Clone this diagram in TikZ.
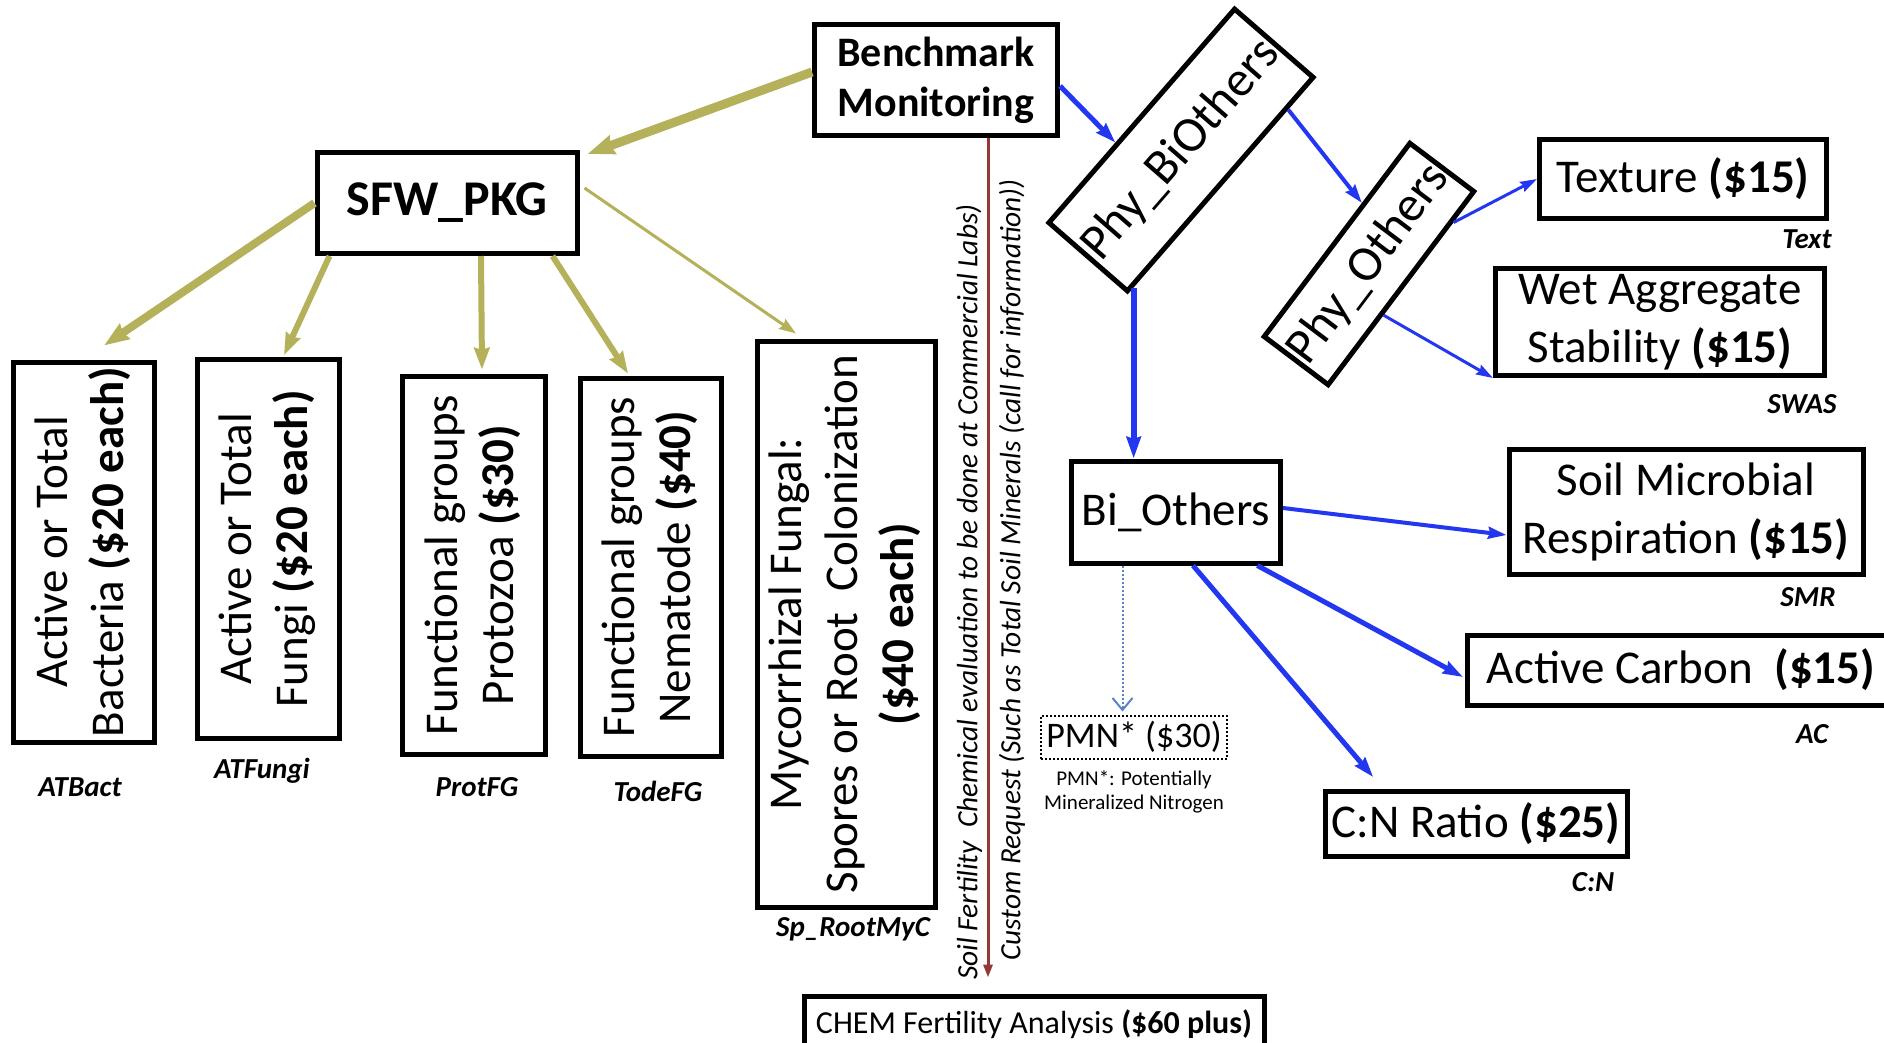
\documentclass[tikz,border=0pt]{standalone}
\usepackage{graphicx}
\usepackage{fontspec}
\setmainfont{Carlito}
\usetikzlibrary{arrows.meta,calc}
\definecolor{olivec}{RGB}{181,177,90}
\definecolor{bluec}{RGB}{35,55,240}
\definecolor{redc}{RGB}{150,55,55}
\definecolor{dotc}{RGB}{90,130,200}
\newcommand\fsz[2]{\fontsize{#1}{#2}\selectfont}
\newcommand\vtxt[1]{\rotatebox{90}{\fsz{47}{56}\begin{tabular}{@{}c@{}}#1\end{tabular}}}

\begin{document}
\begin{tikzpicture}[x=1pt,y=-1pt,
 box/.style={draw,line width=5pt,inner sep=0pt,align=center},
 tag/.style={font=\fsz{29}{34}\bfseries\itshape},
 side/.style={rotate=90,font=\fsz{29.4}{34}\itshape},
 olv/.style={draw=olivec,line width=#1,-{Stealth[length=12pt 1.6,width=8pt 1.2,inset=2pt]}},
 blu/.style={draw=bluec,line width=#1,-{Stealth[length=12pt 1.6,width=7pt 1.2,inset=2pt]}}]
\path[use as bounding box,fill=white] (0,0) rectangle (1884,1042);

% top of the tree
\node[box,minimum width=243pt,minimum height=111pt,font=\fsz{42}{50}\bfseries](bench) at (936,80){Benchmark\\Monitoring};
\node[box,minimum width=260pt,minimum height=101pt,font=\fsz{50}{60}\bfseries](sfw) at (447,203){SFW\_PKG};

% biology boxes
\node[box,minimum width=141pt,minimum height=380pt](atbact) at (84,552){\vtxt{Active or Total\\Bacteria \textbf{(\$20 each)}}};
\node[box,minimum width=142pt,minimum height=379pt](atfungi) at (268,549){\vtxt{Active or Total\\Fungi \textbf{(\$20 each)}}};
\node[box,minimum width=143pt,minimum height=378pt](protfg) at (474,565){\vtxt{Functional groups\\Protozoa \textbf{(\$30)}}};
\node[box,minimum width=141pt,minimum height=378pt](todefg) at (651,567){\vtxt{Functional groups\\Nematode \textbf{(\$40)}}};
\node[box,minimum width=178pt,minimum height=566pt](myc) at (846,624){\vtxt{Mycorrhizal Fungal:\\Spores or Root\ \ Colonization\\\textbf{(\$40 each)}}};
\node[tag](tbact) at (80,787){ATBact};
\node[tag](tfungi) at (262,771){ATFungi};
\node[tag](tprot) at (477,787){ProtFG};
\node[tag](ttode) at (658,791){TodeFG};
\node[tag](tmyc) at (853,929){Sp\_RootMyC};

% chemistry
\node[box,minimum width=460pt,minimum height=56pt,font=\fsz{32}{40}](chem) at (1034,1024){CHEM Fertility Analysis \textbf{(\$60 plus)}};
\node[side](fert) at (969,592){Soil Fertility\ \ Chemical evaluation to be done at Commercial Labs)};
\node[side](custom) at (1012,570){Custom Request (Such as Total Soil Minerals (call for information))};

% physical and other tests
\node[box,rotate=49,minimum width=283pt,minimum height=104pt,font=\fsz{50}{60}](phybi) at (1181,150){Phy\_BiOthers};
\node[box,rotate=53,minimum width=242pt,minimum height=80pt,font=\fsz{50}{60}](phyoth) at (1369,264){Phy\_Others};
\node[box,minimum width=287pt,minimum height=79pt,font=\fsz{47}{58}](texture) at (1683,179){Texture \textbf{(\$15)}};
\node[box,minimum width=329pt,minimum height=107pt,font=\fsz{47}{58}](was) at (1660,322){Wet Aggregate\\Stability \textbf{(\$15)}};
\node[tag](ttext) at (1807,239){Text};
\node[tag](tswas) at (1802,404){SWAS};
\node[box,minimum width=209pt,minimum height=102pt,font=\fsz{47}{58}](bio) at (1176,512){Bi\_Others};
\node[box,minimum width=354pt,minimum height=125pt,font=\fsz{47}{58}](smr) at (1686,512){Soil Microbial\\Respiration \textbf{(\$15)}};
\node[box,minimum width=427pt,minimum height=70pt,font=\fsz{47}{58}](ac) at (1681,670){Active Carbon\ \ \textbf{(\$15)}};
\node[box,minimum width=302pt,minimum height=65pt,font=\fsz{47}{58}](cn) at (1476,824){C:N Ratio \textbf{(\$25)}};
\node[tag](tsmr) at (1808,597){SMR};
\node[tag](tac) at (1812,734){AC};
\node[tag](tcn) at (1593,882){C:N};
\node[draw,dotted,line width=2pt,inner sep=0pt,minimum width=186pt,minimum height=43pt,font=\fsz{36}{44}](pmn) at (1134,737){PMN* (\$30)};
\node[align=center,font=\fsz{21}{24}](pmnnote) at (1134,792){PMN*: Potentially\\Mineralized Nitrogen};

% connectors
\draw[olv=9pt]($(bench.west)+(0,-8)$)--($(sfw.north east)+(8,4)$);
\draw[olv=8pt](sfw.west)--($(atbact.north)+(20,-14)$);
\draw[olv=6pt]($(sfw.south west)+(15,0)$)--($(atfungi.north)+(16,-2)$);
\draw[olv=6pt]($(sfw.south)+(34,0)$)--($(protfg.north)+(8,-4)$);
\draw[olv=6pt]($(sfw.south east)+(-27,0)$)--($(todefg.north)+(-23,-2)$);
\draw[olv=3pt]($(sfw.east)+(5,-15)$)--($(myc.north)+(-50,-5)$);

\coordinate (redtop) at ($(bench.south)+(52,0)$);
\draw[redc,line width=3pt,-{Triangle[length=13pt,width=9pt]},shorten >=16pt](redtop)--(redtop |- chem.north);

\draw[blu=5pt]($(bench.east)+(0,6)$)--($(phybi.north west)!0.37!(phybi.north east)$);
\draw[blu=4pt]($(phybi.south west)!0.85!(phybi.south east)$)--($(phyoth.north west)!0.68!(phyoth.north east)$);
\draw[blu=3pt]($(phyoth.south west)!0.84!(phyoth.south east)$)--(texture.west);
\draw[blu=3pt]($(phyoth.south west)!0.37!(phyoth.south east)$)--(was.south west);
\coordinate (pbtip) at ($(phybi.south west)+(6,-6)$);
\draw[blu=6pt](pbtip)--(pbtip |- bio.north);
\draw[blu=4pt]($(bio.east)+(0,-4)$)--($(smr.west)+(0,23)$);
\draw[blu=5pt]($(bio.south)!0.76!(bio.south east)$)--($(ac.west)+(-2,7)$);
\draw[blu=5pt]($(bio.south)+(17,0)$)--($(cn.north west)!0.33!(cn.north)+(0,-12)$);
\coordinate (pmnsrc) at ($(bio.south west)!0.5!(bio.south)$);
\draw[dotc,line width=2pt,dotted,-{Straight Barb[length=12pt,width=20pt,line width=2pt]},shorten >=3pt](pmnsrc)--(pmnsrc |- pmn.north);
\end{tikzpicture}
\end{document}
